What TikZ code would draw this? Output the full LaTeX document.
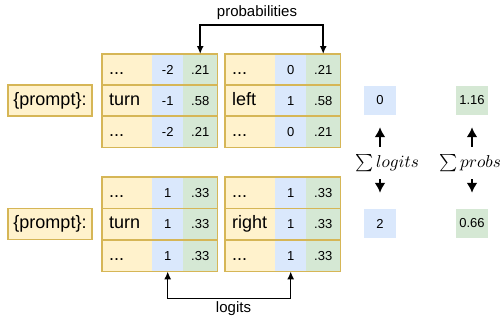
\documentclass[tikz,border=0pt]{standalone}
\usepackage{fontspec}
\setmainfont{Liberation Sans}
\usetikzlibrary{arrows.meta,calc}
\definecolor{yfill}{HTML}{FFF2CC}
\definecolor{ystroke}{HTML}{D6B656}
\definecolor{bfill}{HTML}{DAE8FC}
\definecolor{gfill}{HTML}{D5E8D4}
\tikzset{
  wordcell/.style={anchor=north west, text width=36pt, inner xsep=7pt, inner ysep=0pt,
    minimum height=31pt, align=left, fill=yfill, font=\fontsize{18}{20}\selectfont,
    text height=13pt, text depth=4pt},
  bluecell/.style={anchor=north west, minimum width=31pt, minimum height=31pt, inner sep=0pt,
    fill=bfill, font=\fontsize{13}{15}\selectfont},
  greencell/.style={anchor=north west, minimum width=34pt, minimum height=31pt, inner sep=0pt,
    fill=gfill, font=\fontsize{13}{15}\selectfont},
  tborder/.style={draw=ystroke, line width=1.5pt},
  promptbox/.style={draw=ystroke, line width=1.5pt, fill=yfill, minimum width=84pt,
    minimum height=31pt, inner sep=0pt, font=\fontsize{18}{20}\selectfont},
  sumbox/.style={minimum width=32pt, minimum height=29pt, inner sep=0pt,
    font=\fontsize{13}{15}\selectfont},
  conn/.style={line width=1.5pt, {Latex[length=8pt,width=7pt]}-{Latex[length=8pt,width=7pt]}},
  sumarr/.style={line width=2.2pt, -{Latex[length=10pt,width=11pt]}},
  lbl/.style={font=\fontsize{15}{17}\selectfont, inner sep=0pt},
  sumlbl/.style={inner sep=0pt, minimum height=32pt},
}
\begin{document}
\begin{tikzpicture}[x=1pt,y=1pt]
\useasboundingbox (0,0) rectangle (502,-322);

% ---------- top group ----------
\node[promptbox] (p1) at (50,-100.5) {\{prompt\}:};

% table 1 (top left)
\node[wordcell]  (a11) at (102,-54)  {...};
\node[bluecell]  (a12) at (152,-54)  {-2};
\node[greencell] (a13) at (183,-54)  {.21};
\node[wordcell]  (a21) at (102,-85)  {turn};
\node[bluecell]  (a22) at (152,-85)  {-1};
\node[greencell] (a23) at (183,-85)  {.58};
\node[wordcell]  (a31) at (102,-116) {...};
\node[bluecell]  (a32) at (152,-116) {-2};
\node[greencell] (a33) at (183,-116) {.21};
\draw[tborder] (a11.north west) rectangle (a33.south east);
\draw[tborder] (a21.north west) -- (a23.north east);
\draw[tborder] (a31.north west) -- (a33.north east);

% table 2 (top right)
\node[wordcell]  (b11) at (225,-54)  {...};
\node[bluecell]  (b12) at (275,-54)  {0};
\node[greencell] (b13) at (306,-54)  {.21};
\node[wordcell]  (b21) at (225,-85)  {left};
\node[bluecell]  (b22) at (275,-85)  {1};
\node[greencell] (b23) at (306,-85)  {.58};
\node[wordcell]  (b31) at (225,-116) {...};
\node[bluecell]  (b32) at (275,-116) {0};
\node[greencell] (b33) at (306,-116) {.21};
\draw[tborder] (b11.north west) rectangle (b33.south east);
\draw[tborder] (b21.north west) -- (b23.north east);
\draw[tborder] (b31.north west) -- (b33.north east);

% ---------- bottom group ----------
\node[promptbox] (p2) at (50,-224) {\{prompt\}:};

\node[wordcell]  (c11) at (102,-177) {...};
\node[bluecell]  (c12) at (152,-177) {1};
\node[greencell] (c13) at (183,-177) {.33};
\node[wordcell]  (c21) at (102,-208.5) {turn};
\node[bluecell]  (c22) at (152,-208.5) {1};
\node[greencell] (c23) at (183,-208.5) {.33};
\node[wordcell]  (c31) at (102,-240) {...};
\node[bluecell]  (c32) at (152,-240) {1};
\node[greencell] (c33) at (183,-240) {.33};
\draw[tborder] (c11.north west) rectangle (c33.south east);
\draw[tborder] (c21.north west) -- (c23.north east);
\draw[tborder] (c31.north west) -- (c33.north east);

\node[wordcell]  (d11) at (225,-177) {...};
\node[bluecell]  (d12) at (275,-177) {1};
\node[greencell] (d13) at (306,-177) {.33};
\node[wordcell]  (d21) at (225,-208.5) {right};
\node[bluecell]  (d22) at (275,-208.5) {1};
\node[greencell] (d23) at (306,-208.5) {.33};
\node[wordcell]  (d31) at (225,-240) {...};
\node[bluecell]  (d32) at (275,-240) {1};
\node[greencell] (d33) at (306,-240) {.33};
\draw[tborder] (d11.north west) rectangle (d33.south east);
\draw[tborder] (d21.north west) -- (d23.north east);
\draw[tborder] (d31.north west) -- (d33.north east);

% ---------- sums ----------
\node[sumbox, fill=bfill] (s0) at (380,-100.5) {0};
\node[sumbox, fill=gfill] (s116) at (472,-100.5) {1.16};
\node[sumbox, fill=bfill] (s2) at (380,-223.5) {2};
\node[sumbox, fill=gfill] (s066) at (472,-223.5) {0.66};

\node[sumlbl] (sl) at (387,-163) {\scalebox{1.72}{$\sum logits$}};
\node[sumlbl] (sp) at (470,-163) {\scalebox{1.72}{$\sum probs$}};

\draw[sumarr, shorten >=12pt] (sl.north -| s0.south) -- (s0.south);
\draw[sumarr, shorten >=16pt] (sl.south -| s2.north) -- (s2.north);
\draw[sumarr, shorten >=12pt] (sp.north -| s116.south) -- (s116.south);
\draw[sumarr, shorten >=16pt] (sp.south -| s066.north) -- (s066.north);

% ---------- connectors ----------
\draw[conn] (a13.north) -- ++(0,29) -| (b13.north);
\node[lbl] (problbl) at (257,-13) {probabilities};
\draw[conn] (c32.south) -- ++(0,-27) -| (d32.south);
\node[lbl] (logitlbl) at (233.5,-309) {logits};
\end{tikzpicture}
\end{document}
